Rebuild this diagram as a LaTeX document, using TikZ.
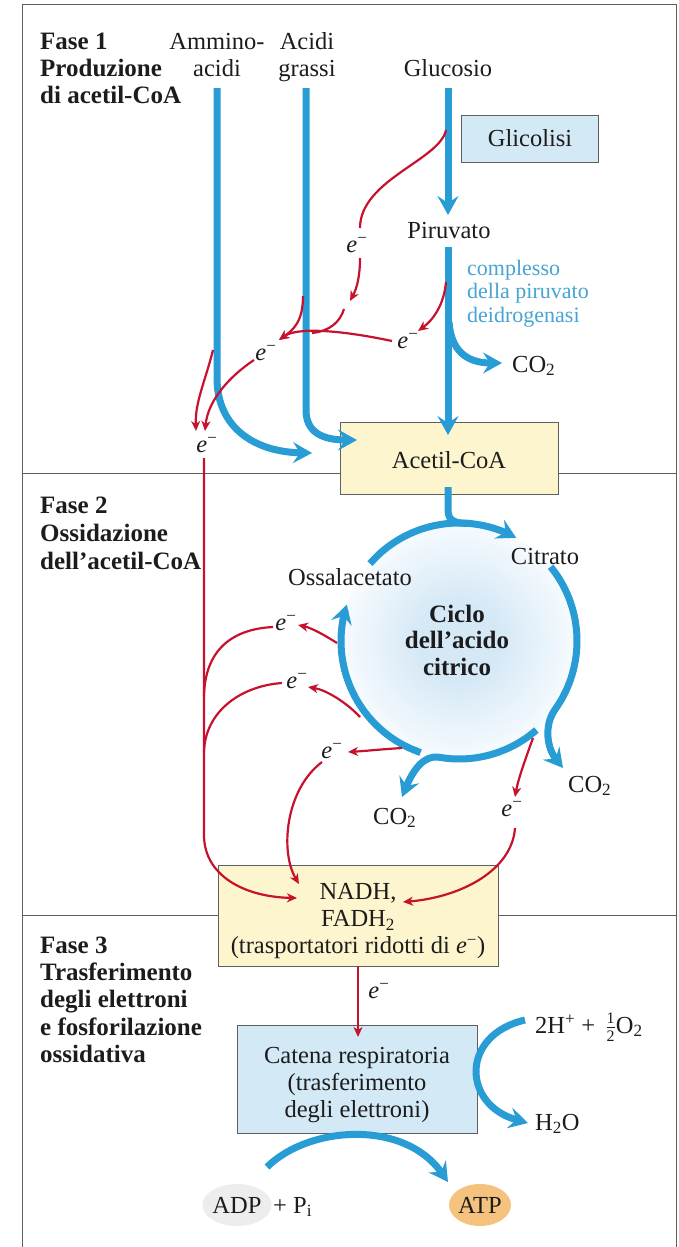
\RequirePackage{fix-cm}
\documentclass[tikz,border=0pt]{standalone}
\usepackage{fontspec}
\setmainfont{Liberation Serif}
\usetikzlibrary{arrows.meta,shapes.geometric}
\definecolor{cblue}{RGB}{40,156,212}
\definecolor{ctext}{RGB}{70,163,210}
\definecolor{cred}{RGB}{198,18,46}
\definecolor{cyel}{RGB}{253,245,206}
\definecolor{cbox}{RGB}{211,233,246}
\definecolor{cframe}{RGB}{95,95,95}
\definecolor{cadp}{RGB}{237,237,237}
\definecolor{catp}{RGB}{245,195,125}
\definecolor{ccyc}{RGB}{212,232,246}
\definecolor{ccycb}{RGB}{247,251,254}
\definecolor{cink}{RGB}{28,28,28}
\pgfdeclareradialshading{cycshade}{\pgfpoint{0bp}{0bp}}{color(0bp)=(ccyc); color(8bp)=(ccyc); color(25bp)=(ccycb); color(50bp)=(ccycb)}
\newcommand{\upstrut}{\rule{0pt}{28pt}}
\newcommand{\elec}{\textit{e}\textsuperscript{−}}
\newcommand{\halfnum}[1]{\mbox{\fontsize{16}{16}\selectfont #1}}
\tikzset{
  txt/.style={font=\fontsize{24.5}{27}\selectfont, inner sep=0pt, text=cink},
  hdr/.style={font=\fontsize{25}{27}\selectfont\bfseries, inner sep=0pt, anchor=base west, text=cink},
  lab/.style={txt, anchor=base},
  labw/.style={txt, anchor=base west},
  bluetxt/.style={font=\fontsize{22}{24}\selectfont, inner sep=0pt, anchor=base west, text=ctext},
  bline/.style={draw=cblue, line width=7pt},
  barrow/.style={bline, -{Stealth[length=19pt,width=21pt,inset=7pt]}},
  rline/.style={draw=cred, line width=2.2pt},
  rarrow/.style={rline, -{Stealth[length=10pt,width=9pt,inset=3pt]}},
  ybox/.style={draw=cframe, fill=cyel, line width=0.9pt, txt, align=center},
  bbox/.style={draw=cframe, fill=cbox, line width=0.9pt, txt, align=center},
  frameln/.style={draw=cframe, line width=1pt},
  oval/.style={ellipse, draw=none, txt, minimum width=62pt, minimum height=42pt}
}
\begin{document}
\begin{tikzpicture}[x=1pt,y=-1pt]
\useasboundingbox (0,0) rectangle (679,1247);
% frame
\draw[frameln] (22,1247) -- (22,5) -- (676,5) -- (676,1247);
\draw[frameln] (22,473) -- (676,473);
\draw[frameln] (22,915) -- (676,915);
% citric acid cycle background
\shade[shading=cycshade] (459,641) circle[radius=118pt];
% boxes
\node[bbox, minimum width=137pt, minimum height=47pt] (glyc) at (530,138.5) {Glicolisi};
\node[ybox, minimum width=218pt, minimum height=72pt] (acetil) at (449,458) {\rule{0pt}{21pt}Acetil-CoA};
\node[ybox, minimum width=280pt, minimum height=101pt] (nadh) at (358,915.5) {\upstrut NADH,\\FADH\textsubscript{2}\\(trasportatori ridotti di \elec)};
\node[bbox, minimum width=240pt, minimum height=108pt] (catena) at (357,1079) {\upstrut Catena respiratoria\\(trasferimento\\degli elettroni)};
\node[oval, fill=cadp] (adp) at (237,1205) {ADP};
\node[oval, fill=catp] (atp) at (480,1205) {ATP};
% phase headers
\node[hdr] (f1a) at (40,50) {Fase 1};
\node[hdr] (f1b) at (40,77) {Produzione};
\node[hdr] (f1c) at (40,103) {di acetil-CoA};
\node[hdr] (f2a) at (40,513) {Fase 2};
\node[hdr] (f2b) at (40,541) {Ossidazione};
\node[hdr] (f2c) at (40,569) {dell’acetil-CoA};
\node[hdr] (f3a) at (40,953) {Fase 3};
\node[hdr] (f3b) at (40,980) {Trasferimento};
\node[hdr] (f3c) at (40,1007) {degli elettroni};
\node[hdr] (f3d) at (40,1035) {e fosforilazione};
\node[hdr] (f3e) at (40,1062) {ossidativa};
% labels
\node[lab] (amm1) at (217,50) {Ammino-};
\node[lab] (amm2) at (217,77) {acidi};
\node[lab] (acg1) at (307,50) {Acidi};
\node[lab] (acg2) at (307,77) {grassi};
\node[lab] (glu) at (448,77) {Glucosio};
\node[lab] (pir) at (449,238) {Piruvato};
\node[bluetxt] (cpl1) at (467,275) {complesso};
\node[bluetxt] (cpl2) at (467,298.5) {della piruvato};
\node[bluetxt] (cpl3) at (467,322) {deidrogenasi};
\node[labw] (co2a) at (512,372) {CO\textsubscript{2}};
\node[lab] (e1) at (357,252) {\elec};
\node[lab] (e2) at (408,348) {\elec};
\node[lab] (e3) at (266,360) {\elec};
\node[lab] (e4) at (207,452) {\elec};
\node[lab] (oss) at (350,585) {Ossalacetato};
\node[lab] (cit) at (545,564) {Citrato};
\node[hdr, anchor=base] (cyc1) at (457,622) {Ciclo};
\node[hdr, anchor=base] (cyc2) at (457,648.5) {dell’acido};
\node[hdr, anchor=base] (cyc3) at (457,675) {citrico};
\node[lab] (e5) at (286,630) {\elec};
\node[lab] (e6) at (297,688) {\elec};
\node[lab] (e7) at (332,758) {\elec};
\node[lab] (e8) at (512,816) {\elec};
\node[labw] (co2b) at (373,824) {CO\textsubscript{2}};
\node[labw] (co2c) at (568,792) {CO\textsubscript{2}};
\node[lab] (e9) at (379,998) {\elec};
\node[labw] (hox) at (535,1033) {2H\textsuperscript{+} + \,$\frac{\halfnum{1}}{\halfnum{2}}$O\textsubscript{2}};
\node[labw] (h2o) at (535,1130) {H\textsubscript{2}O};
\node[labw] (pi) at (273,1213) {+ P\textsubscript{i}};
% coordinates (free ends)
\coordinate (amS) at (217,88);   \coordinate (amT) at (312,453);
\coordinate (fgS) at (306,88);   \coordinate (fgT) at (357,440);
\coordinate (glS) at (448,88);   \coordinate (glT) at (448,215);
\coordinate (pyS) at (448,247);  \coordinate (pyT) at (448,435);
\coordinate (cxS) at (449,322);  \coordinate (cxT) at (502,363);
\coordinate (acS) at (448,487);  \coordinate (acT) at (470,523.5);
\coordinate (r1s) at (446,130);  \coordinate (r1t) at (360,228);
\coordinate (r2s) at (360,258);  \coordinate (r2t) at (350,301);
\coordinate (r3s) at (344,309);  \coordinate (r3t) at (312,333);
\coordinate (r4s) at (392,341);  \coordinate (r4t) at (279,340);
\coordinate (r5s) at (303,296);
\coordinate (r6s) at (446,282);  \coordinate (r6t) at (418,331);
\coordinate (r7s) at (254,360);  \coordinate (r7t) at (205,431);
\coordinate (r8s) at (213,350);  \coordinate (r8t) at (196,431);
\coordinate (r9s) at (204,458);  \coordinate (r9t) at (297,898);
\coordinate (r10s) at (273,627); \coordinate (r10t) at (204,696);
\coordinate (r11s) at (282,683); \coordinate (r11t) at (204,752);
\coordinate (r12s) at (337,643); \coordinate (r12t) at (298,625);
\coordinate (r13s) at (360,717); \coordinate (r13t) at (308,687);
\coordinate (r14s) at (402,748); \coordinate (r14t) at (348,752);
\coordinate (r15s) at (322,762); \coordinate (r15t) at (299,884);
\coordinate (r16s) at (533,738); \coordinate (r16t) at (515,797);
\coordinate (r17s) at (515,828); \coordinate (r17t) at (403,902);
\coordinate (r18s) at (358,966); \coordinate (r18t) at (358,1037);
\coordinate (b1s) at (525,1020); \coordinate (b1t) at (528,1123);
\coordinate (b2s) at (267,1167); \coordinate (b2t) at (448,1182);
% blue flows, phase 1
\draw[barrow] (amS) -- (217,378) .. controls (217,428) and (255,452) .. (amT);
\draw[barrow] (fgS) -- (306,410) .. controls (306,432) and (322,440) .. (fgT);
\draw[barrow] (glS) -- (glT);
\draw[barrow] (pyS) -- (pyT);
\draw[barrow] (cxS) .. controls (451,350) and (466,363) .. (cxT);
% cycle
\draw[bline] (acS) -- (448,510) .. controls (448,521) and (455,523.5) .. (acT);
\draw[barrow] plot[smooth, domain=-139:-61, samples=14, variable=\t] ({459+118*cos(\t)},{641+118*sin(\t)});
\draw[barrow] plot[smooth, domain=-39:36, samples=14, variable=\t] ({459+118*cos(\t)},{641+118*sin(\t)}) .. controls (544,726) and (547,748) .. (563,768);
\draw[barrow] plot[smooth, domain=49:100, samples=10, variable=\t] ({459+118*cos(\t)},{641+118*sin(\t)}) .. controls (424,755) and (413,770) .. (402,797);
\draw[barrow] plot[smooth, domain=109:198, samples=16, variable=\t] ({459+118*cos(\t)},{641+118*sin(\t)});
% red electron paths, phase 1
\draw[rline] (r1s) .. controls (440,160) and (360,180) .. (r1t);
\draw[rarrow] (r2s) .. controls (360,276) and (357,288) .. (r2t);
\draw[rline] (r3s) .. controls (340,322) and (330,331) .. (r3t);
\draw[rarrow] (r4s) .. controls (340,330) and (297,327) .. (r4t);
\draw[rarrow] (r5s) .. controls (303,322) and (293,330) .. (r4t);
\draw[rarrow] (r6s) .. controls (444,305) and (433,320) .. (r6t);
\draw[rarrow] (r7s) .. controls (230,376) and (208,400) .. (r7t);
\draw[rarrow] (r8s) .. controls (205,382) and (195,402) .. (r8t);
% phase 2
\draw[rarrow] (r9s) -- (204,835) .. controls (204,876) and (245,897) .. (r9t);
\draw[rline] (r10s) .. controls (232,629) and (205,650) .. (r10t);
\draw[rline] (r11s) .. controls (240,686) and (205,712) .. (r11t);
\draw[rarrow] (r12s) .. controls (326,636) and (312,628) .. (r12t);
\draw[rarrow] (r13s) .. controls (346,702) and (326,690) .. (r13t);
\draw[rarrow] (r14s) .. controls (385,749) and (365,751) .. (r14t);
\draw[rarrow] (r15s) .. controls (285,790) and (280,852) .. (r15t);
\draw[rarrow] (r16s) .. controls (525,760) and (518,780) .. (r16t);
\draw[rarrow] (r17s) .. controls (512,870) and (462,897) .. (r17t);
% phase 3
\draw[rarrow] (r18s) -- (r18t);
\draw[barrow] (b1s) .. controls (460,1035) and (462,1105) .. (b1t);
\draw[barrow] (b2s) .. controls (310,1125) and (405,1120) .. (b2t);
\end{tikzpicture}
\end{document}
